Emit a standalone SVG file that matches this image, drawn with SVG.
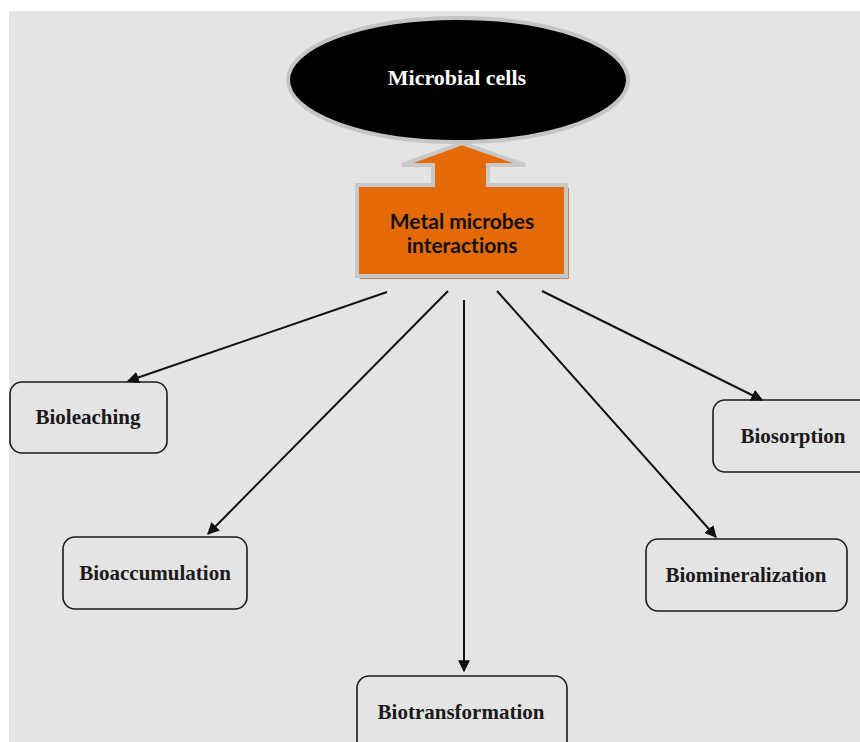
<svg xmlns="http://www.w3.org/2000/svg" width="860" height="742" viewBox="0 0 860 742">
<defs>
<style>
.box{fill:#e4e4e4;stroke:#1a1a1a;stroke-width:1.6}
.lbl{font-family:"Liberation Serif","Times New Roman",serif;font-weight:bold;font-size:21px;fill:#1a1a1a;text-anchor:middle}
.conn{stroke:#111;stroke-width:2;fill:none;marker-end:url(#ah)}
.hub{font-family:Lato,"Open Sans",sans-serif;font-weight:bold;font-size:21px;fill:#111;text-anchor:middle;font-variant-ligatures:none}
</style>
<marker id="ah" viewBox="0 0 10 10" refX="9" refY="5" markerWidth="12" markerHeight="12" markerUnits="userSpaceOnUse" orient="auto-start-reverse">
<path d="M0,0 L10,5 L0,10 z" fill="#111"/>
</marker>
</defs>
<rect x="0" y="0" width="860" height="742" fill="#ffffff"/>
<rect x="9" y="11" width="851" height="731" fill="#e4e4e4"/>

<g id="microbial-cells">
<ellipse cx="458" cy="80" rx="170" ry="62" fill="#000" stroke="#c4c4c4" stroke-width="4"/>
<text x="457" y="85" font-family="Liberation Serif,serif" font-weight="bold" font-size="22" fill="#ffffff" text-anchor="middle">Microbial cells</text>
</g>

<g id="metal-microbes-interactions">
<path d="M569,188 L569,279 L360,279 L360,276 L566,276 L566,188 Z" fill="#b88a64"/>
<path d="M357,185 L433,185 L433,165 L402,165 L462,143 L525,165 L488,165 L488,185 L566,185 L566,276 L357,276 Z" fill="#e36a06" stroke="#c8c8c8" stroke-width="4" stroke-linejoin="miter"/>
<text class="hub" x="462" y="229">Metal microbes</text>
<text class="hub" x="462" y="253">interactions</text>
</g>

<g id="bioleaching">
<rect class="box" x="10" y="382" width="157" height="71" rx="12"/>
<text class="lbl" x="88" y="424">Bioleaching</text>
</g>
<g id="bioaccumulation">
<rect class="box" x="63" y="537" width="184" height="72" rx="12"/>
<text class="lbl" x="155" y="580">Bioaccumulation</text>
</g>
<g id="biotransformation">
<rect class="box" x="357" y="676" width="210" height="80" rx="12"/>
<text class="lbl" x="461" y="719">Biotransformation</text>
</g>
<g id="biomineralization">
<rect class="box" x="646" y="539" width="201" height="72" rx="12"/>
<text class="lbl" x="746" y="582">Biomineralization</text>
</g>
<g id="biosorption">
<rect class="box" x="713" y="400" width="160" height="72" rx="12"/>
<text class="lbl" x="793" y="443">Biosorption</text>
</g>

<g id="connectors">
<line class="conn" x1="387" y1="292" x2="128" y2="381"/>
<line class="conn" x1="448" y1="291" x2="208" y2="534"/>
<line class="conn" x1="464" y1="300" x2="464" y2="671"/>
<line class="conn" x1="497" y1="291" x2="716" y2="537"/>
<line class="conn" x1="542" y1="291" x2="762" y2="400"/>
</g>
</svg>
